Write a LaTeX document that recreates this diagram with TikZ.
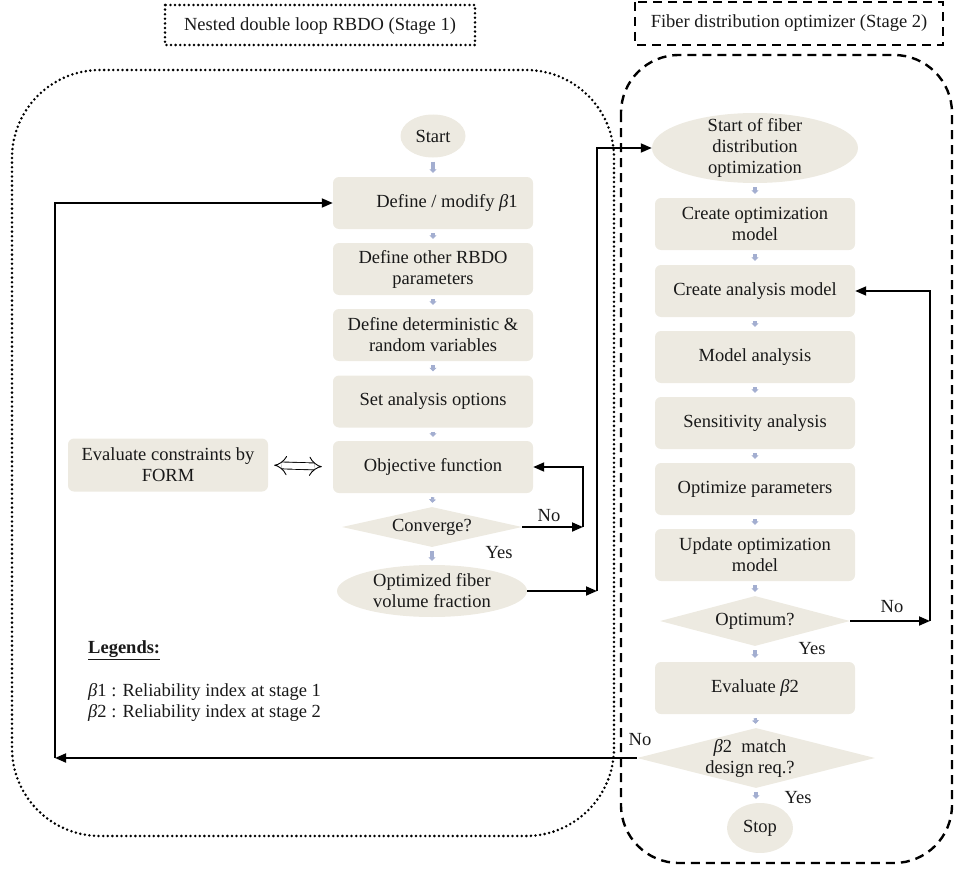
\documentclass[tikz,border=0pt]{standalone}
\usepackage{fontspec}
\setmainfont{Liberation Serif}
\usetikzlibrary{shapes.geometric,arrows.meta}
\definecolor{nodefill}{RGB}{237,234,225}
\definecolor{arrowblue}{RGB}{163,174,208}
\definecolor{inkc}{RGB}{25,25,25}
\newcommand{\nfont}{\fontsize{18.5}{21}\selectfont}
\newcommand{\bet}[1]{{\itshape β}#1}
\tikzset{
  proc/.style={rectangle, rounded corners=6pt, fill=nodefill, minimum width=200pt, minimum height=52pt, align=center, inner sep=2pt, font=\nfont, text=inkc},
  term/.style={ellipse, fill=nodefill, inner sep=0pt},
  dia/.style={diamond, fill=nodefill, inner sep=0pt},
  txt/.style={align=center, font=\nfont, text=inkc, inner sep=0pt},
  flowarr/.style={draw=arrowblue, line width=3.2pt, -{Triangle[length=3.5pt,width=7pt]}, shorten <=4pt, shorten >=4pt},
  conn/.style={draw=black, line width=1.8pt, -{Triangle[length=11pt,width=9pt]}},
  dotbox/.style={draw=black, line width=2.8pt, dash pattern=on 0pt off 4.6pt, line cap=round},
  dashbox/.style={draw=black, line width=2.4pt, dash pattern=on 9pt off 6pt}
}
\begin{document}
\begin{tikzpicture}[x=1pt,y=-1pt]
\useasboundingbox (0,0) rectangle (954,875);

% containers
\draw[dotbox] (165,5) rectangle (475,45);
\node[txt] (t1) at (320,26) {Nested double loop RBDO (Stage 1)};
\draw[dashbox] (635,2) rectangle (943,45);
\node[txt] (t2) at (789,23) {Fiber distribution optimizer (Stage 2)};
\draw[dotbox, rounded corners=88pt] (12,70) rectangle (614,836);
\draw[dashbox, rounded corners=58pt] (621,55) rectangle (952,863);

% left column
\node[term, minimum width=65pt, minimum height=43pt] (start) at (433,136) {};
\node[txt] (start-t) at (start) {Start};
\node[proc] (def) at (433,203) {\hspace*{28pt}Define / modify \bet{1}};
\node[proc] (oth) at (433,269) {Define other RBDO\\parameters};
\node[proc] (det) at (433,335) {Define deterministic \&\\random variables};
\node[proc] (set) at (433,401.5) {Set analysis options};
\node[proc] (obj) at (433,467) {Objective function};
\node[dia, minimum width=180pt, minimum height=40pt] (conv) at (432,527) {};
\node[txt] (conv-t) at (conv) {Converge?};
\node[term, minimum width=190pt, minimum height=52pt] (ofv) at (432,591) {};
\node[txt] (ofv-t) at (ofv) {Optimized fiber\\volume fraction};
\node[proc, minimum height=53pt] (eval) at (168,465) {Evaluate constraints by\\FORM};

% right column
\node[term, minimum width=206pt, minimum height=70pt] (sfd) at (755,148) {};
\node[txt] (sfd-t) at (sfd) {Start of fiber\\distribution\\optimization};
\node[proc] (com) at (755,224) {Create optimization\\model};
\node[proc] (cam) at (755,291) {Create analysis model};
\node[proc] (mod) at (755,357) {Model analysis};
\node[proc] (sen) at (755,423) {Sensitivity analysis};
\node[proc] (opp) at (755,489) {Optimize parameters};
\node[proc] (upd) at (755,555) {Update optimization\\model};
\node[dia, minimum width=190pt, minimum height=50pt] (opt) at (755,621) {};
\node[txt] (opt-t) at (opt) {Optimum?};
\node[proc] (evb) at (755,688) {Evaluate \bet{2}};
\node[dia, minimum width=238pt, minimum height=60pt] (match) at (756,758) {};
\node[txt] (match-t) at (750,758) {\bet{2}~ match\\design req.?};
\node[term, minimum width=66pt, minimum height=50pt] (stop) at (760,828) {};
\node[txt] (stop-t) at (stop) {Stop};

% small flow arrows
\foreach \a/\b in {start/def, def/oth, oth/det, det/set, set/obj, obj/conv, conv/ofv,
  sfd/com, com/cam, cam/mod, mod/sen, sen/opp, opp/upd, upd/opt, opt/evb, evb/match}
  \draw[flowarr] (\a.south) -- (\b.north);
\draw[flowarr] (match.south) -- (match.south |- stop.north);

% connectors
\coordinate (c1) at (583,527);
\draw[conn] (conv.east) -- (c1);
\draw[conn] (c1) |- (obj.east);
\node[txt] (no1) at (549,516) {No};
\node[txt] (yes1) at (499,553) {Yes};

\coordinate (s1) at (597,591);
\draw[conn] (ofv.east) -- (s1);
\draw[conn] (s1) |- (sfd.west);

\coordinate (o1) at (930,621);
\draw[conn] (opt.east) -- (o1);
\draw[conn] (o1) |- (cam.east);
\node[txt] (no2) at (892,607) {No};
\node[txt] (yes2) at (812,649) {Yes};

\coordinate (l1) at (55,758);
\draw[conn] (match.west) -- (l1);
\draw[conn] (l1) |- (def.west);
\node[txt] (no3) at (640,740) {No};
\node[txt] (yes3) at (798,798) {Yes};

\draw[line width=0.9pt, double distance=6pt, {Implies}-{Implies}, shorten <=6pt, shorten >=11pt] (eval.east) -- (obj.west);

% legend
\node[txt, anchor=west, font=\nfont\bfseries] (leg) at (88,650) {\underline{Legends:}};
\node[txt, anchor=west] (leg1) at (88,692) {\bet{1} : Reliability index at stage 1};
\node[txt, anchor=west] (leg2) at (88,713) {\bet{2} : Reliability index at stage 2};
\end{tikzpicture}
\end{document}
